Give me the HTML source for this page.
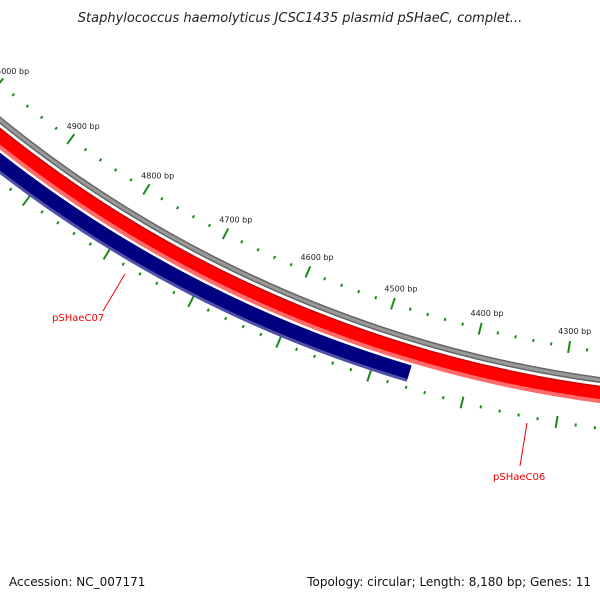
<!DOCTYPE html>
<html><head><meta charset="utf-8"><style>
body{margin:0;background:#fff}
svg{display:block}
text{font-family:"DejaVu Sans","Liberation Sans",sans-serif}
</style></head><body>
<svg id="map" width="600" height="600" viewBox="0 0 600 600">
<rect width="600" height="600" fill="#fff"/>
<text x="300" y="22" text-anchor="middle" font-size="13" font-style="italic" fill="#222">Staphylococcus haemolyticus JCSC1435 plasmid pSHaeC, complet...</text>
<g id="ticks"></g>
<g id="feat"></g>
<line x1="103" y1="311" x2="125" y2="274" stroke="#e00" stroke-width="1"/>
<text x="52" y="321" font-size="10" fill="#e00">pSHaeC07</text>
<line x1="520" y1="466" x2="527" y2="423" stroke="#e00" stroke-width="1"/>
<text x="493" y="480" font-size="10" fill="#e00">pSHaeC06</text>
<text x="9" y="586" font-size="12" fill="#111">Accession: NC_007171</text>
<text x="591" y="586" font-size="12" fill="#111" text-anchor="end">Topology: circular; Length: 8,180 bp; Genes: 11</text>
</svg>
<script>
const majorLabels = [5000, 4900, 4800, 4700, 4600, 4500, 4400, 4300];
const tickRange = [4180, 5120];
const blueGene = [4461, 5300];
const redGenes = [[4475, 5300], [4000, 4475]];
const CX = 763, CY = -819, TOTAL = 8180;
const NS = "http://www.w3.org/2000/svg";
function ang(bp){ return (-89.8 + bp / TOTAL * 360) * Math.PI / 180; }
function pt(bp, r){ const a = ang(bp); return [CX + r * Math.cos(a), CY + r * Math.sin(a)]; }
function arcPath(b0, b1, r){ const p0 = pt(b0, r), p1 = pt(b1, r);
  return `M${p0[0]},${p0[1]} A${r},${r} 0 0 1 ${p1[0]},${p1[1]}`; }
function mk(tag, attrs, parent){ const e = document.createElementNS(NS, tag);
  for (const k in attrs) e.setAttribute(k, attrs[k]); parent.appendChild(e); return e; }
const tg = document.getElementById('ticks'), fg = document.getElementById('feat');
for (let bp = tickRange[0]; bp <= tickRange[1]; bp += 20) {
  const major = bp % 100 === 0;
  [[1182, major ? 6 : 1.5], [1258, major ? 6 : 1.5]].forEach(([r, h]) => {
    const a = pt(bp, r - h), b = pt(bp, r + h);
    const l = mk('line', {x1:a[0], y1:a[1], x2:b[0], y2:b[1], stroke:'#1a8a1a', 'stroke-width':2}, tg);
    
    
  });
}
majorLabels.forEach(v => {
  const p = pt(v, 1166);
  const t = mk('text', {x:p[0] + 3, y:p[1] + 3, 'font-size':8, 'text-anchor':'middle', fill:'#222'}, tg);
  t.textContent = v + ' bp';
  
  
});
// backbone
let e = mk('path', {d:arcPath(4100, 5300, 1210), fill:'none', stroke:'#666', 'stroke-width':6}, fg);
 
e = mk('path', {d:arcPath(4100, 5300, 1210), fill:'none', stroke:'#999', 'stroke-width':3}, fg);
 
// red genes
redGenes.forEach((g, i) => {
  let p = mk('path', {d:arcPath(g[0], g[1], 1224.5), fill:'none', stroke:'#ff6b6b', 'stroke-width':17}, fg);
   
  p = mk('path', {d:arcPath(g[0], g[1], 1222.5), fill:'none', stroke:'#f00', 'stroke-width':13}, fg);
   
  p = mk('path', {d:arcPath(g[0], g[1], 1216.5), fill:'none', stroke:'#c00', 'stroke-width':1.5}, fg);
   
});
// blue gene
e = mk('path', {d:arcPath(blueGene[0], blueGene[1], 1244), fill:'none', stroke:'#5050a8', 'stroke-width':17}, fg);
 
e = mk('path', {d:arcPath(blueGene[0], blueGene[1], 1242.5), fill:'none', stroke:'#000080', 'stroke-width':14}, fg);
 
</script>
</body></html>
